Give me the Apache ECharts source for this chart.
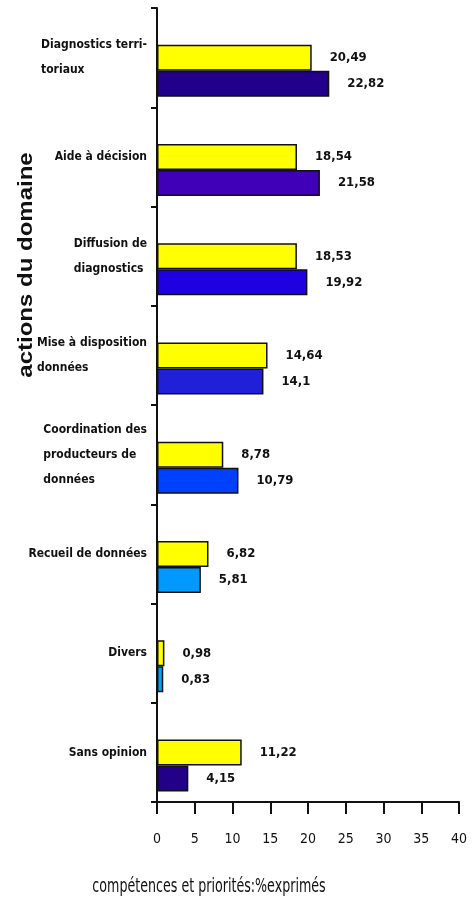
<!DOCTYPE html>
<html>
<head>
<meta charset="utf-8">
<script src="https://cdn.jsdelivr.net/npm/echarts@6/dist/echarts.min.js"></script>
<style>
  html, body { margin: 0; padding: 0; background: #fff; }
  #chart { width: 472px; height: 903px; }
</style>
</head>
<body>
<div id="chart"></div>
<script>
// Domain actions, top to bottom
const categories = [
  'Diagnostics terri-\ntoriaux',
  'Aide à décision',
  'Diffusion de\ndiagnostics',
  'Mise à disposition\ndonnées',
  'Coordination des\nproducteurs de\ndonnées',
  'Recueil de données',
  'Divers',
  'Sans opinion'
];
// Yellow bars (upper bar of each pair)
const yellowValues = [20.49, 18.54, 18.53, 14.64, 8.78, 6.82, 0.98, 11.22];
// Blue bars (lower bar of each pair)
const blueValues = [22.82, 21.58, 19.92, 14.1, 10.79, 5.81, 0.83, 4.15];
const blueShades = ['#22008c', '#4000b8', '#1e00e0', '#2020d8', '#0040ff', '#0099ff', '#00a4f4', '#220088'];
const xTicks = { min: 0, max: 40, interval: 5 };

const FONT = '"DejaVu Sans Condensed", "Liberation Sans Narrow", "Liberation Sans", Arial, sans-serif';
const fmt = p => String(p.value).replace('.', ',');

const chart = echarts.init(document.getElementById('chart'), null, { renderer: 'canvas' });

const valueLabel = {
  show: true,
  position: 'right',
  distance: 18,
  formatter: fmt,
  fontFamily: FONT,
  fontWeight: 'bold',
  fontSize: 13,
  color: '#111'
};

chart.setOption({
  animation: false,
  backgroundColor: '#fff',
  grid: { left: 157, right: 13, top: 8, bottom: 101, containLabel: false },
  xAxis: {
    type: 'value',
    min: xTicks.min, max: xTicks.max, interval: xTicks.interval,
    axisLine: { show: true, lineStyle: { color: '#111', width: 2 } },
    axisTick: { show: true, length: 12, lineStyle: { color: '#111', width: 2 } },
    splitLine: { show: false },
    axisLabel: { margin: 30, fontFamily: FONT, fontSize: 14, color: '#111' }
  },
  yAxis: {
    type: 'category',
    data: categories,
    inverse: true,
    axisLine: { show: true, lineStyle: { color: '#111', width: 2 } },
    axisTick: { show: true, length: 6, lineStyle: { color: '#111', width: 2 } },
    axisLabel: {
      margin: 10,
      align: 'right',
      formatter: v => v.split('\n').map(l => '{l|' + l + '}').join('\n'),
      rich: {
        l: { align: 'left', fontFamily: FONT, fontWeight: 'bold', fontSize: 12, lineHeight: 25, color: '#111' }
      }
    }
  },
  series: [
    {
      name: 'spacer',
      type: 'bar',
      barWidth: 26,
      barGap: 0,
      silent: true,
      data: categories.map(() => null)
    },
    {
      name: 'jaune',
      type: 'bar',
      barWidth: 26,
      barGap: 0,
      data: yellowValues,
      itemStyle: { color: '#ffff00', borderColor: '#111', borderWidth: 1.5 },
      label: valueLabel
    },
    {
      name: 'bleu',
      type: 'bar',
      barWidth: 26,
      barGap: 0,
      data: blueValues.map((v, i) => ({ value: v, itemStyle: { color: blueShades[i] } })),
      itemStyle: { borderColor: '#111', borderWidth: 1.5 },
      label: valueLabel
    }
  ],
  graphic: [
    {
      type: 'text',
      x: 26, y: 265,
      rotation: Math.PI / 2,
      scaleX: 1.2,
      style: {
        text: 'actions du domaine',
        fontFamily: '"Liberation Sans", Arial, sans-serif',
        fontWeight: 'bold',
        fontSize: 20,
        fill: '#111',
        align: 'center',
        verticalAlign: 'middle'
      }
    },
    {
      type: 'text',
      x: 209, y: 887,
      scaleX: 0.88,
      scaleY: 1.25,
      style: {
        text: 'compétences et priorités:%exprimés',
        fontFamily: FONT,
        fontSize: 16,
        fill: '#111',
        align: 'center',
        verticalAlign: 'middle'
      }
    }
  ]
});
</script>
</body>
</html>
